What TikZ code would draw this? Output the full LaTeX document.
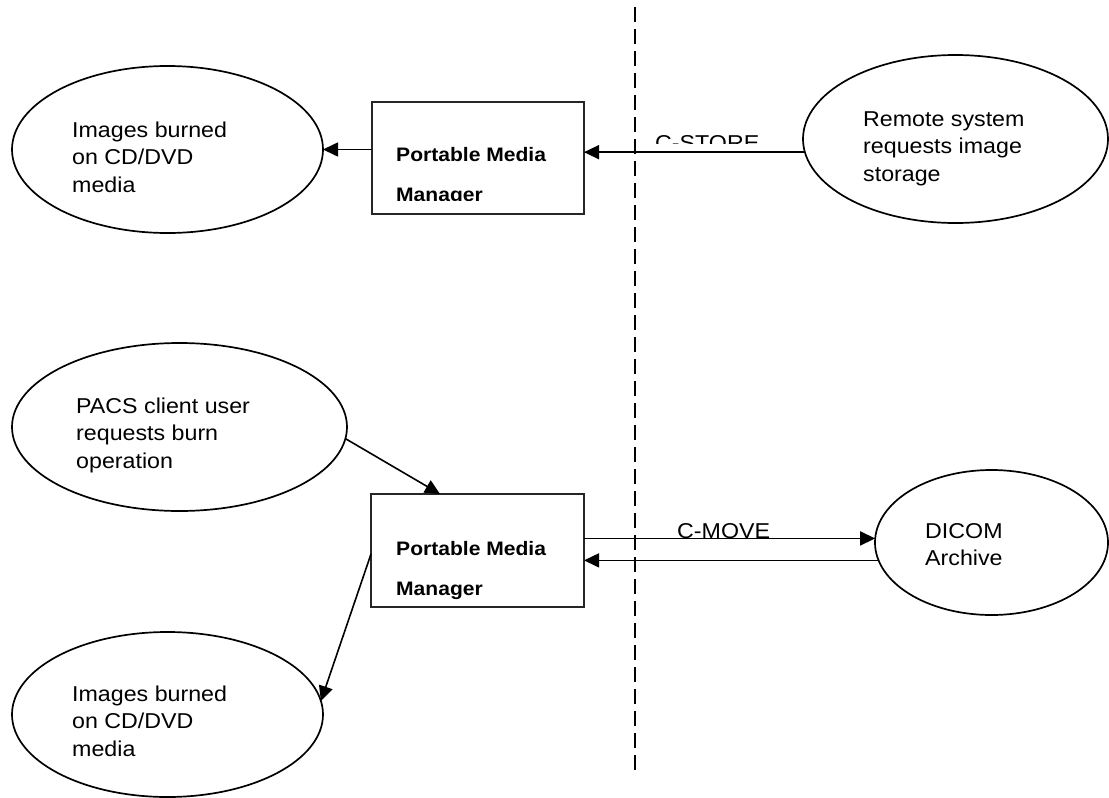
\documentclass[tikz,border=0pt]{standalone}
\usepackage{fontspec}
\setmainfont{Liberation Sans}[FakeStretch=1.08]
\usetikzlibrary{arrows.meta,shapes.geometric}
\begin{document}
\begin{tikzpicture}[x=1pt,y=-1pt,
 oval/.style={ellipse,draw,line width=1.7pt,inner sep=0pt,outer sep=0pt},
 pmbox/.style={rectangle,draw=black!85,line width=1.1pt,inner sep=0pt,outer sep=0pt},
 lbl/.style={anchor=base west,align=left,inner sep=0pt,font=\fontsize{21.5}{27.5}\selectfont},
 blbl/.style={anchor=base west,align=left,inner sep=0pt,font=\fontsize{19.5}{40}\selectfont\bfseries},
 arr/.style={line width=1.6pt,-{Triangle[length=15pt,width=14pt]}},
 divider/.style={line width=1.7pt,dash pattern=on 15pt off 7pt}]
\useasboundingbox (0,0) rectangle (1109,798);

% divider
\coordinate (dtop) at (635,7);
\coordinate (dbot) at (635,770);
\draw[divider] (dtop) -- (dbot);

% ellipses
\node[oval,minimum width=311pt,minimum height=167pt] (E1) at (167.5,149.5) {};
\node[oval,minimum width=305pt,minimum height=168pt] (E2) at (955.5,139) {};
\node[oval,minimum width=335pt,minimum height=168pt] (E3) at (179.5,427) {};
\node[oval,minimum width=311pt,minimum height=165pt] (E4) at (167.5,714.5) {};
\node[oval,minimum width=233pt,minimum height=145pt] (E5) at (991.5,542.5) {};

% boxes
\node[pmbox,minimum width=212pt,minimum height=112pt] (B1) at (478,158) {};
\node[pmbox,minimum width=213pt,minimum height=113pt] (B2) at (477.5,550.5) {};

% ellipse texts (anchor = baseline of last line)
\node[lbl] (T1) at (72,192) {Images burned\\on CD/DVD\\media};
\node[lbl] (T2) at (863,181) {Remote system\\requests image\\storage};
\node[lbl] (T3) at (76,468) {PACS client user\\requests burn\\operation};
\node[lbl] (T4) at (72,756) {Images burned\\on CD/DVD\\media};
\node[lbl] (T5) at (925,565.5) {DICOM\\Archive};

% box texts
\begin{scope}
\clip (372,102) rectangle (584,200);
\node[blbl] (P1) at (396,201) {Portable Media\\Manager};
\end{scope}
\node[blbl] (P2) at (396,595) {Portable Media\\Manager};

% connector labels
\begin{scope}
\clip (640,110) rectangle (800,143.5);
\node[lbl] (CS) at (655,150) {C-STORE};
\end{scope}
\node[lbl] (CM) at (677,538) {C-MOVE};

% connectors
\draw[arr] (B1.west |- E1.east) -- (E1.east);
\draw[arr] (E2.185) -- (B1.east |- E2.185);
\draw[arr] (E3.-4) -- ([xshift=69pt]B2.north west);
\draw[arr] ([yshift=-3.5pt]B2.west) -- (E4.5);
\draw[arr] (B2.east |- E5.178) -- (E5.178);
\draw[arr] (E5.189) -- (B2.east |- E5.189);
\end{tikzpicture}
\end{document}
